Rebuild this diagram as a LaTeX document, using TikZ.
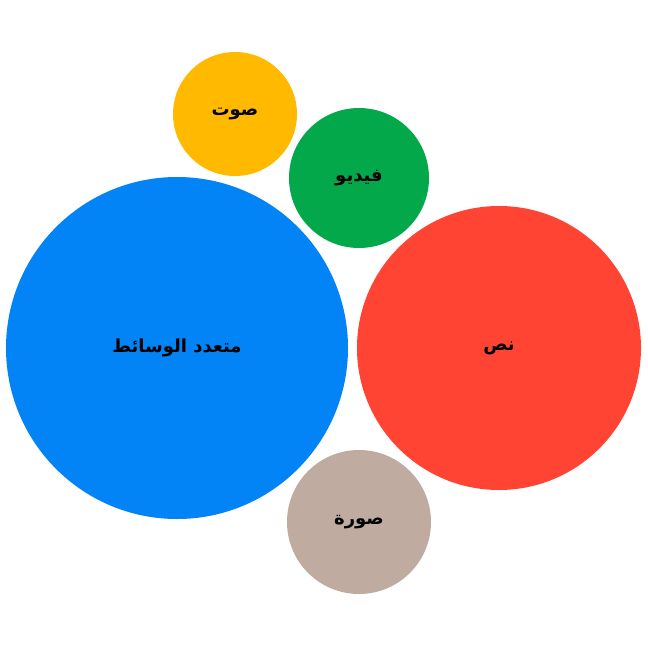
\documentclass[tikz,border=0pt]{standalone}
\usepackage{fontspec}
\TeXXeTstate=1
\newfontfamily\arabicfont[Script=Arabic]{DejaVu Sans}
\definecolor{cblue}{HTML}{0384F6}
\definecolor{cred}{HTML}{FF4433}
\definecolor{cyellow}{HTML}{FFBA00}
\definecolor{cgreen}{HTML}{02A84A}
\definecolor{ctan}{HTML}{BFAB9F}
\tikzset{bubble/.style={circle,inner sep=0pt,draw=none},
  lbl/.style={font=\arabicfont\bfseries\fontsize{18}{22}\selectfont,text=black}}
\begin{document}
\begin{tikzpicture}[x=1pt,y=-1pt]
\useasboundingbox[fill=white] (0,0) rectangle (648,648);
\node[bubble,fill=cblue,minimum size=342pt] (multi) at (177,348) {};
\node[bubble,fill=cred,minimum size=284pt] (text) at (499,348) {};
\node[bubble,fill=cyellow,minimum size=124pt] (audio) at (235,114) {};
\node[bubble,fill=cgreen,minimum size=140pt] (video) at (359,178) {};
\node[bubble,fill=ctan,minimum size=144pt] (image) at (359,522) {};
\node[lbl] at (multi) {\beginR متعدد الوسائط\endR};
\node[lbl] at (text) {\beginR نص\endR};
\node[lbl] at (audio) {\beginR صوت\endR};
\node[lbl] at (video) {\beginR فيديو\endR};
\node[lbl] at (image) {\beginR صورة\endR};
\end{tikzpicture}
\end{document}
